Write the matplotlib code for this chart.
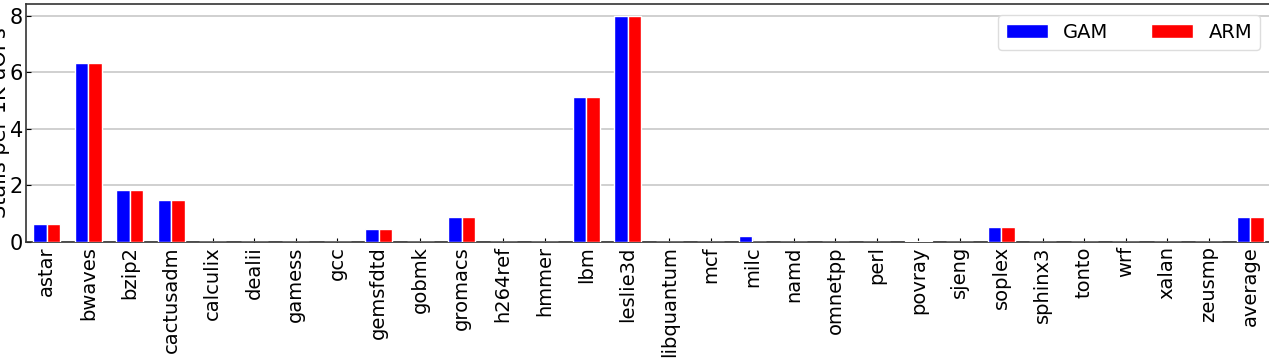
import matplotlib
matplotlib.use('Agg')
import matplotlib.pyplot as plt
import numpy as np

benchmarks = ['astar', 'bwaves', 'bzip2', 'cactusadm', 'calculix', 'dealii', 'gamess',
              'gcc', 'gemsfdtd', 'gobmk', 'gromacs', 'h264ref', 'hmmer', 'lbm',
              'leslie3d', 'libquantum', 'mcf', 'milc', 'namd', 'omnetpp', 'perl',
              'povray', 'sjeng', 'soplex', 'sphinx3', 'tonto', 'wrf', 'xalan',
              'zeusmp', 'average']
gam = [0.64, 6.35, 1.84, 1.5, 0, 0, 0, 0, 0.46, 0, 0.88, 0, 0, 5.13,
       7.98, 0, 0, 0.22, 0, 0, 0, 0.04, 0, 0.54, 0, 0, 0, 0, 0, 0.88]
arm = [0.64, 6.35, 1.84, 1.5, 0, 0, 0, 0, 0.46, 0, 0.88, 0, 0, 5.13,
       7.98, 0, 0, 0.0, 0, 0, 0, 0.04, 0, 0.54, 0, 0, 0, 0, 0, 0.88]

fig = plt.figure(figsize=(12.69, 3.62), dpi=100)
ax = fig.add_axes([26 / 1269, 120 / 362, 1245 / 1269, 238 / 362])

x = np.arange(len(benchmarks))
w = 0.32
ax.bar(x - w / 2, gam, w, color='blue', edgecolor='white', linewidth=1, label='GAM', zorder=3)
ax.bar(x + w / 2, arm, w, color='red', edgecolor='white', linewidth=1, label='ARM', zorder=3)

ax.set_xlim(-0.5, len(benchmarks) - 0.5)
ax.set_ylim(0, 8.42)
ax.set_yticks([0, 2, 4, 6, 8])
ax.set_xticks(x)
ax.set_xticklabels(benchmarks, rotation=90, fontsize=14)
ax.tick_params(axis='y', labelsize=15, direction='in', pad=2)
ax.tick_params(axis='x', direction='in', length=3, pad=3)
ax.yaxis.grid(True, color='#c8c8c8', linewidth=1.2, zorder=0)
for s in ax.spines.values():
    s.set_color('#333333')
    s.set_linewidth(1.2)

ax.set_ylabel('Stalls per 1K uOPs', fontsize=15)
ax.yaxis.set_label_coords(-16 / 1245, 0.5)

ax.legend(loc='upper right', bbox_to_anchor=(1234 / 1245, 227 / 238), borderaxespad=0,
          ncol=2, fontsize=14, handlelength=2.15, handletextpad=0.8,
          columnspacing=2.2, framealpha=1, edgecolor='#dddddd')

fig.savefig('out.png', dpi=100)
